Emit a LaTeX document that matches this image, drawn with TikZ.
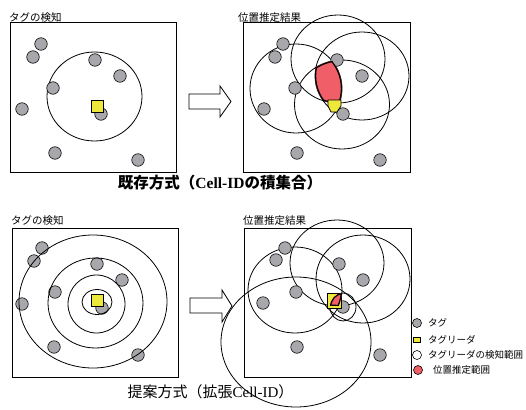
\documentclass[tikz,border=0pt]{standalone}
\usepackage{fontspec}
\setmainfont{Liberation Serif}
\newfontfamily\jp{Noto Sans CJK JP}
\usetikzlibrary{shapes.geometric}
\definecolor{taggray}{RGB}{168,168,172}
\definecolor{readery}{RGB}{238,232,58}
\definecolor{estred}{RGB}{240,94,104}
\begin{document}
\begin{tikzpicture}[x=1pt,y=-1pt,
 tag/.style={circle,draw,fill=taggray,line width=0.6pt,minimum size=12.5pt,inner sep=0pt},
 panel/.style={draw,line width=1pt},
 ring/.style={line width=0.8pt},
 reader/.style={rectangle,draw,fill=readery,line width=0.8pt,inner sep=0pt},
 lab/.style={anchor=west,inner sep=0pt,font=\jp\fontsize{10.5}{12}\selectfont},
 leg/.style={anchor=west,inner sep=0pt,font=\jp\fontsize{9.5}{11}\selectfont},
 barrow/.style={draw,fill=white,line width=0.8pt},
 legsym/.style={circle,draw,line width=0.6pt,minimum size=9pt,inner sep=0pt}]
\useasboundingbox (0,0) rectangle (526,409);
\clip (0,0) rectangle (526,409);

% ---------- labels ----------
\node[lab] (l1) at (9,18) {タグの検知};
\node[lab] (l2) at (238,17.5) {位置推定結果};
\node[lab] (l3) at (11,221) {タグの検知};
\node[lab] (l4) at (243,221) {位置推定結果};

% ---------- panels ----------
\draw[panel] (10,23) rectangle (176,172);
\draw[panel] (243,23) rectangle (410,172);
\draw[panel] (12,228) rectangle (178,377);
\draw[panel] (244,228) rectangle (411,377);

% ---------- arrows ----------
\draw[barrow] (189,94)--(220,94)--(220,86)--(231,101.5)--(220,117)--(220,109)--(189,109)--cycle;
\draw[barrow] (190,298)--(222,298)--(222,290)--(232,306)--(222,322)--(222,313)--(190,313)--cycle;

% ---------- top-left ----------
\draw[ring] (94.5,96.5) ellipse [x radius=47.5pt, y radius=44.5pt];
\foreach \p [count=\i] in {(41,44),(33,57),(95,60),(120,76),(53,88),(22,109),(101,114),(55,153),(138,160)}
  \node[tag] (ta\i) at \p {};
\node[reader,minimum size=12pt] (ra) at (97,106) {};

% ---------- top-right ----------
\draw[ring] (338,59) ellipse [x radius=47pt, y radius=44pt];
\draw[ring] (362,76) ellipse [x radius=47pt, y radius=44pt];
\draw[ring] (296,88.5) ellipse [x radius=46pt, y radius=44.5pt];
\draw[ring] (342,104.5) ellipse [x radius=47.5pt, y radius=44.5pt];
\foreach \p [count=\i] in {(283,44),(275,57),(337,60),(362,76),(295,88),(264,109),(343,114),(297,153),(380,160)}
  \node[tag] (tb\i) at \p {};
\begin{scope}
  \clip (338,59) ellipse [x radius=47pt, y radius=44pt];
  \clip (362,76) ellipse [x radius=47pt, y radius=44pt];
  \clip (296,88.5) ellipse [x radius=46pt, y radius=44.5pt];
  \clip (342,104.5) ellipse [x radius=47.5pt, y radius=44.5pt];
  \fill[estred] (243,23) rectangle (410,172);
  \draw[line width=2.4pt] (338,59) ellipse [x radius=47pt, y radius=44pt];
  \draw[line width=2.4pt] (362,76) ellipse [x radius=47pt, y radius=44pt];
  \draw[line width=2.4pt] (296,88.5) ellipse [x radius=46pt, y radius=44.5pt];
  \draw[line width=2.4pt] (342,104.5) ellipse [x radius=47.5pt, y radius=44.5pt];
\end{scope}
\draw[fill=readery,line width=0.8pt] (328,100)--(341,100)--(341,106)--(337,112)--(331,112)--(328,106)--cycle;

% ---------- bottom-left ----------
\foreach \p [count=\i] in {(42,248),(34,261),(97,264),(122,280),(55,292),(22,304),(102,308),(54,347),(138,355)}
  \node[tag] (tc\i) at \p {};
\node[reader,minimum size=12pt] (rc) at (97,300) {};
\draw[ring] (97,302) ellipse [x radius=15pt, y radius=12.5pt];
\draw[ring] (96.5,304) ellipse [x radius=28.5pt, y radius=29pt];
\draw[ring] (95.5,303) ellipse [x radius=47.5pt, y radius=45pt];
\draw[ring] (93,301.5) ellipse [x radius=74pt, y radius=66.5pt];

% ---------- bottom-right ----------
\draw[ring] (337,263) ellipse [x radius=47pt, y radius=43pt];
\draw[ring] (363,279) ellipse [x radius=47pt, y radius=44pt];
\draw[ring] (295,290) ellipse [x radius=47pt, y radius=43pt];
\draw[ring] (343,307) ellipse [x radius=13pt, y radius=14pt];
\draw[ring] (296,342) ellipse [x radius=75pt, y radius=65pt];
\foreach \p [count=\i] in {(285,248),(276,260),(339,264),(363,280),(296,292),(263,303),(343,307),(297,347),(380,355)}
  \node[tag] (td\i) at \p {};
\draw[fill=readery,line width=0.8pt] (327.5,293) rectangle (341.5,308);
\begin{scope}
  \clip (337,263) ellipse [x radius=47pt, y radius=43pt];
  \clip (363,279) ellipse [x radius=47pt, y radius=44pt];
  \clip (295,290) ellipse [x radius=47pt, y radius=43pt];
  \clip (343,307) ellipse [x radius=13pt, y radius=14pt];
  \clip (296,342) ellipse [x radius=75pt, y radius=65pt];
  \fill[estred] (244,228) rectangle (411,377);
  \draw[line width=2.4pt] (337,263) ellipse [x radius=47pt, y radius=43pt];
  \draw[line width=2.4pt] (363,279) ellipse [x radius=47pt, y radius=44pt];
  \draw[line width=2.4pt] (295,290) ellipse [x radius=47pt, y radius=43pt];
  \draw[line width=2.4pt] (343,307) ellipse [x radius=13pt, y radius=14pt];
  \draw[line width=2.4pt] (296,342) ellipse [x radius=75pt, y radius=65pt];
\end{scope}

% ---------- titles ----------
\node[inner sep=0pt] (tt1) at (220,183) {\fontsize{15.5}{18}\selectfont\bfseries\jp 既存方式（\rmfamily Cell-ID\jp の積集合）};
\node[inner sep=0pt] (tt2) at (210.5,392) {\fontsize{15}{18}\selectfont\jp 提案方式（拡張\rmfamily Cell-ID\jp ）};

% ---------- legend ----------
\node[legsym,fill=taggray] (g1) at (417,323) {};
\node[leg] (g1t) at (428,323) {タグ};
\node[rectangle,draw,fill=readery,line width=0.6pt,minimum width=7pt,minimum height=5pt,inner sep=0pt] (g2) at (417,340) {};
\node[leg] (g2t) at (428,340) {タグリーダ};
\node[legsym,fill=white] (g3) at (417,355) {};
\node[leg] (g3t) at (428,355) {タグリーダの検知範囲};
\node[legsym,fill=estred] (g4) at (418,370) {};
\node[leg] (g4t) at (433,370) {位置推定範囲};
\end{tikzpicture}
\end{document}
